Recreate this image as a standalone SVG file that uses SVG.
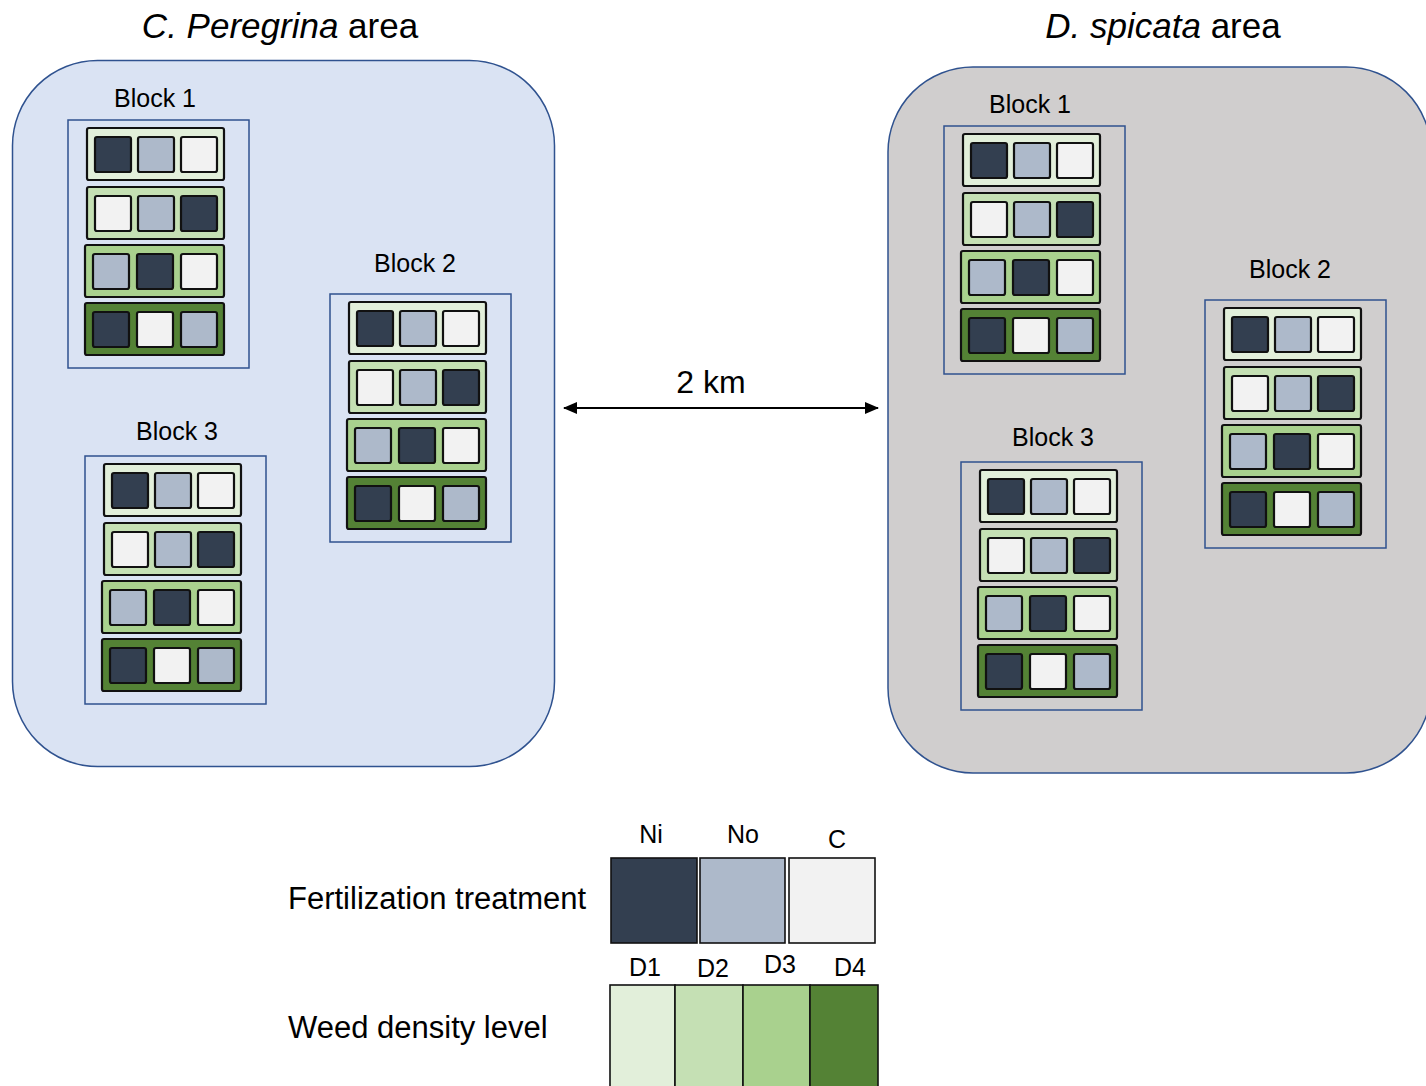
<svg xmlns="http://www.w3.org/2000/svg" xmlns:xlink="http://www.w3.org/1999/xlink" width="1426" height="1086" viewBox="0 0 1426 1086">
<style>
text { font-family: "Liberation Sans", Arial, sans-serif; fill: #000; }
.title { font-size: 35px; text-anchor: middle; }
.lbl { font-size: 25px; text-anchor: middle; }
.leg { font-size: 31px; }
.blk { fill: none; stroke: #2F528F; stroke-width: 1.5; }
.row { stroke: #111; stroke-width: 2.2; }
.cell { stroke: #111; stroke-width: 2.2; }
.ni { fill: #333F50; }
.no { fill: #ADB9CA; }
.c { fill: #F2F2F2; }
.d1 { fill: #E2EFDA; }
.d2 { fill: #C5E0B4; }
.d3 { fill: #A9D18E; }
.d4 { fill: #548235; }
.sw { stroke: #111; stroke-width: 1.6; }
</style>
<defs>
  <g id="plots">
    <rect class="blk" x="0" y="0" width="181" height="248"/>
    <rect class="row d1" x="19" y="8" width="137" height="52" rx="2"/>
    <rect class="cell ni" x="27" y="17" width="36" height="35" rx="2"/>
    <rect class="cell no" x="70" y="17" width="36" height="35" rx="2"/>
    <rect class="cell c" x="113" y="17" width="36" height="35" rx="2"/>
    <rect class="row d2" x="19" y="67" width="137" height="52" rx="2"/>
    <rect class="cell c" x="27" y="76" width="36" height="35" rx="2"/>
    <rect class="cell no" x="70" y="76" width="36" height="35" rx="2"/>
    <rect class="cell ni" x="113" y="76" width="36" height="35" rx="2"/>
    <rect class="row d3" x="17" y="125" width="139" height="52" rx="2"/>
    <rect class="cell no" x="25" y="134" width="36" height="35" rx="2"/>
    <rect class="cell ni" x="69" y="134" width="36" height="35" rx="2"/>
    <rect class="cell c" x="113" y="134" width="36" height="35" rx="2"/>
    <rect class="row d4" x="17" y="183" width="139" height="52" rx="2"/>
    <rect class="cell ni" x="25" y="192" width="36" height="35" rx="2"/>
    <rect class="cell c" x="69" y="192" width="36" height="35" rx="2"/>
    <rect class="cell no" x="113" y="192" width="36" height="35" rx="2"/>
  </g>
  <marker id="ah" viewBox="0 0 14 12" refX="13" refY="6" markerWidth="14" markerHeight="12" markerUnits="userSpaceOnUse" orient="auto-start-reverse">
    <path d="M0,0 L14,6 L0,12 Z" fill="#000"/>
  </marker>
</defs>

<g id="area-left">
  <rect x="12.5" y="60.5" width="542" height="706" rx="85" ry="85" fill="#DAE3F3" stroke="#2F528F" stroke-width="1.5"/>
  <text class="title" x="280" y="38"><tspan font-style="italic">C. Peregrina</tspan> area</text>
</g>
<g id="area-right">
  <rect x="888" y="67" width="543" height="706" rx="85" ry="85" fill="#D0CECE" stroke="#2F528F" stroke-width="1.5"/>
  <text class="title" x="1163" y="38"><tspan font-style="italic">D. spicata</tspan> area</text>
</g>

<g id="left-block1">
  <use xlink:href="#plots" href="#plots" transform="translate(68,120)"/>
  <text class="lbl" x="155" y="107">Block 1</text>
</g>
<g id="left-block2">
  <use xlink:href="#plots" href="#plots" transform="translate(330,294)"/>
  <text class="lbl" x="415" y="272">Block 2</text>
</g>
<g id="left-block3">
  <use xlink:href="#plots" href="#plots" transform="translate(85,456)"/>
  <text class="lbl" x="177" y="440">Block 3</text>
</g>
<g id="right-block1">
  <use xlink:href="#plots" href="#plots" transform="translate(944,126)"/>
  <text class="lbl" x="1030" y="113">Block 1</text>
</g>
<g id="right-block2">
  <use xlink:href="#plots" href="#plots" transform="translate(1205,300)"/>
  <text class="lbl" x="1290" y="278">Block 2</text>
</g>
<g id="right-block3">
  <use xlink:href="#plots" href="#plots" transform="translate(961,462)"/>
  <text class="lbl" x="1053" y="446">Block 3</text>
</g>

<g id="connectors">
  <line x1="564" y1="408" x2="878" y2="408" stroke="#000" stroke-width="2" marker-start="url(#ah)" marker-end="url(#ah)"/>
  <text x="711" y="393" font-size="32" text-anchor="middle">2 km</text>
</g>

<g id="legend-fertilization">
  <text class="leg" x="288" y="909">Fertilization treatment</text>
  <rect class="sw ni" x="611" y="858" width="86" height="85"/>
  <rect class="sw no" x="700" y="858" width="85" height="85"/>
  <rect class="sw c" x="789" y="858" width="86" height="85"/>
  <text class="lbl" x="651" y="843">Ni</text>
  <text class="lbl" x="743" y="843">No</text>
  <text class="lbl" x="837" y="848">C</text>
</g>
<g id="legend-density">
  <text class="leg" x="288" y="1038">Weed density level</text>
  <rect class="sw d1" x="610" y="985" width="65" height="110"/>
  <rect class="sw d2" x="675" y="985" width="68" height="110"/>
  <rect class="sw d3" x="743" y="985" width="67" height="110"/>
  <rect class="sw d4" x="810" y="985" width="68" height="110"/>
  <text class="lbl" x="645" y="976">D1</text>
  <text class="lbl" x="713" y="977">D2</text>
  <text class="lbl" x="780" y="973">D3</text>
  <text class="lbl" x="850" y="976">D4</text>
</g>
</svg>
